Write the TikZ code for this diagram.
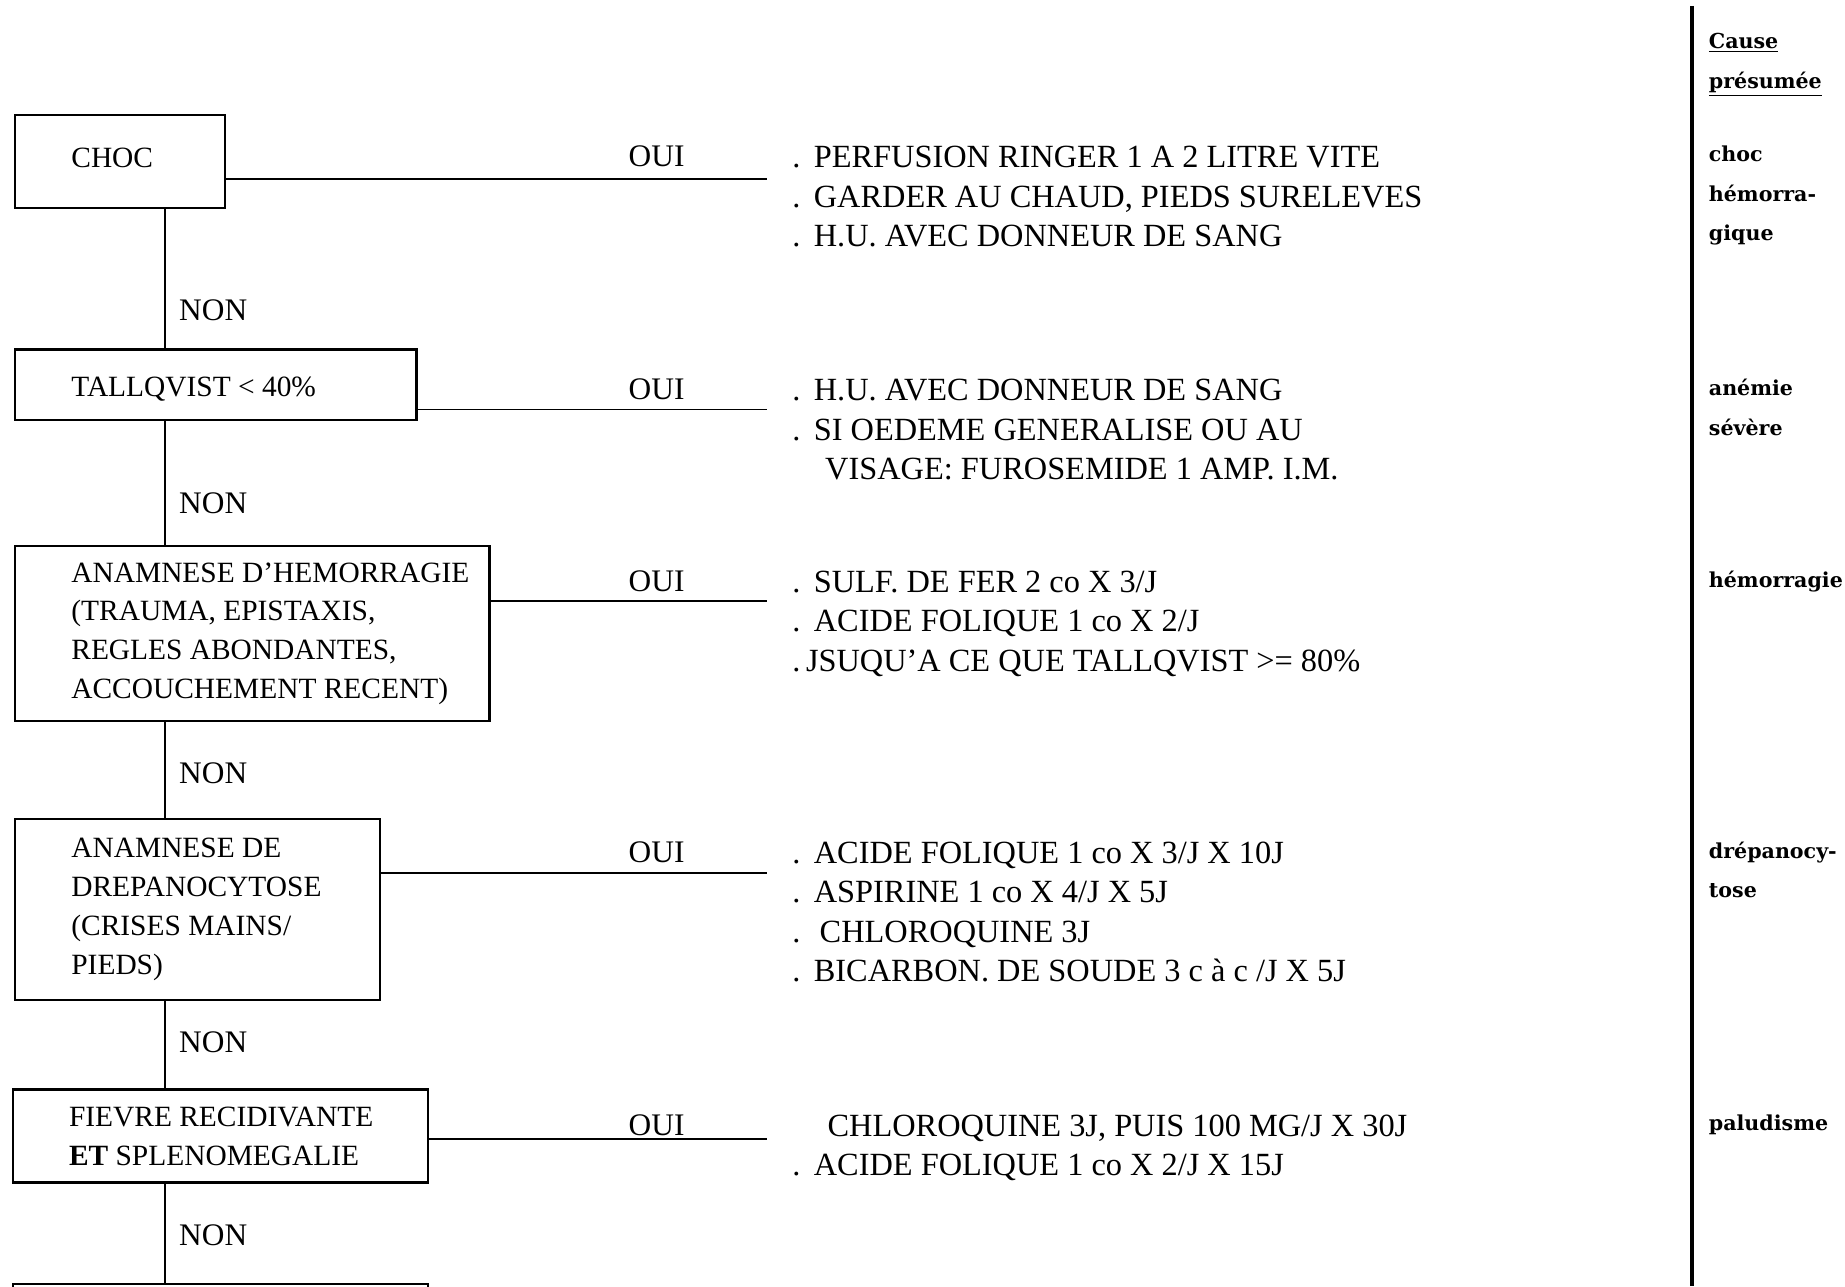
\documentclass[tikz,border=0pt]{standalone}
\usepackage{fontspec}
\setmainfont{Liberation Serif}
\newfontfamily\causefont{DejaVu Serif}

\newcommand{\dt}{\makebox[11pt][l]{.}}

\begin{document}
\begin{tikzpicture}[x=0.6pt, y=-0.6pt,
    cond/.style={draw, line width=1.2pt, anchor=north west, inner sep=0pt},
    condtxt/.style={anchor=west, align=left, inner sep=0pt, font=\fontsize{15}{19.8}\selectfont},
    acts/.style={anchor=north west, align=left, inner sep=0pt, font=\fontsize{16.5}{20.1}\selectfont},
    lbl/.style={inner sep=0pt, font=\fontsize{16}{20.1}\selectfont},
    cause/.style={anchor=north west, align=left, inner sep=0pt, font=\causefont\bfseries\fontsize{10.5}{20.1}\selectfont},
    link/.style={line width=1pt}]
    \useasboundingbox (0,0) rectangle (1568,1093);
    \clip (0,0) rectangle (1568,1093);

    % questions
    \node[cond, minimum width=106.8pt, minimum height=47.4pt] (choc) at (12,97) {};
    \node[condtxt] (choc-t) at ([xshift=29pt, yshift=2pt]choc.west) {CHOC};
    \node[cond, minimum width=204.6pt, minimum height=36pt] (tallq) at (12,296) {};
    \node[condtxt] (tallq-t) at ([xshift=29pt, yshift=-2pt]tallq.west) {TALLQVIST < 40\%};
    \node[cond, minimum width=241.8pt, minimum height=89.4pt] (hemo) at (12,463) {};
    \node[condtxt] (hemo-t) at ([xshift=29pt]hemo.west) {ANAMNESE D'HEMORRAGIE\\(TRAUMA, EPISTAXIS,\\REGLES ABONDANTES,\\ACCOUCHEMENT RECENT)};
    \node[cond, minimum width=186pt, minimum height=92.4pt] (drepa) at (12,695) {};
    \node[condtxt] (drepa-t) at ([xshift=29pt]drepa.west) {ANAMNESE DE\\DREPANOCYTOSE\\(CRISES MAINS/\\PIEDS)};
    \node[cond, minimum width=211.8pt, minimum height=47.4pt] (fievre) at (10,925) {};
    \node[condtxt] (fievre-t) at ([xshift=29pt]fievre.west) {FIEVRE RECIDIVANTE\\\textbf{ET} SPLENOMEGALIE};
    \node[cond, minimum width=211.8pt, minimum height=36pt] (suite) at (10,1090) {};

    % NON
    \coordinate (spine) at (140,0);
    \draw[link] (choc.south -| spine) -- (tallq.north -| spine);
    \draw[link] (tallq.south -| spine) -- (hemo.north -| spine);
    \draw[link] (hemo.south -| spine) -- (drepa.north -| spine);
    \draw[link] (drepa.south -| spine) -- (fievre.north -| spine);
    \draw[link] (fievre.south -| spine) -- (suite.north -| spine);
    \node[lbl, anchor=west] (non1) at (152,264) {NON};
    \node[lbl, anchor=west] (non2) at (152,428) {NON};
    \node[lbl, anchor=west] (non3) at (152,657) {NON};
    \node[lbl, anchor=west] (non4) at (152,886) {NON};
    \node[lbl, anchor=west] (non5) at (152,1050) {NON};

    % OUI
    \coordinate (e1) at (652,152);
    \coordinate (e2) at (652,348);
    \coordinate (e3) at (652,511);
    \coordinate (e4) at (652,742);
    \coordinate (e5) at (652,968);
    \draw[link] (choc.east |- e1) -- (e1);
    \draw[link] (tallq.east |- e2) -- (e2);
    \draw[link] (hemo.east |- e3) -- (e3);
    \draw[link] (drepa.east |- e4) -- (e4);
    \draw[link] (fievre.east |- e5) -- (e5);
    \node[lbl] (oui1) at (558,133) {OUI};
    \node[lbl] (oui2) at (558,331) {OUI};
    \node[lbl] (oui3) at (558,494) {OUI};
    \node[lbl] (oui4) at (558,724) {OUI};
    \node[lbl] (oui5) at (558,956) {OUI};

    % conduite a tenir
    \node[acts] (act1) at (673,124) {\dt PERFUSION RINGER 1 A 2 LITRE VITE\\\dt GARDER AU CHAUD, PIEDS SURELEVES\\\dt H.U. AVEC DONNEUR DE SANG};
    \node[acts] (act2) at (673,322) {\dt H.U. AVEC DONNEUR DE SANG\\\dt SI OEDEME GENERALISE OU AU\\\hspace*{16.8pt}VISAGE: FUROSEMIDE 1 AMP. I.M.};
    \node[acts] (act3) at (673,485) {\dt SULF. DE FER 2 co X 3/J\\\dt ACIDE FOLIQUE 1 co X 2/J\\\makebox[7pt][l]{.}JSUQU'A CE QUE TALLQVIST >= 80\%};
    \node[acts] (act4) at (673,715) {\dt ACIDE FOLIQUE 1 co X 3/J X 10J\\\dt ASPIRINE 1 co X 4/J X 5J\\\makebox[14pt][l]{.}CHLOROQUINE 3J\\\dt BICARBON. DE SOUDE 3 c à c /J X 5J};
    \node[acts] (act5) at (673,947) {\hspace*{18pt}CHLOROQUINE 3J, PUIS 100 MG/J X 30J\\\dt ACIDE FOLIQUE 1 co X 2/J X 15J};

    % cause presumee
    \coordinate (ctop) at (1438,5);
    \coordinate (cbot) at (1438,1093);
    \draw[line width=1.6pt] (ctop) -- (cbot);
    \node[cause] (cause-h) at (1452,28) {\underline{Cause}\\\underline{présumée}};
    \node[cause] (cause1) at (1452,124) {choc\\hémorra-\\gique};
    \node[cause] (cause2) at (1452,322) {anémie\\sévère};
    \node[cause] (cause3) at (1452,485) {hémorragie};
    \node[cause] (cause4) at (1452,715) {drépanocy-\\tose};
    \node[cause] (cause5) at (1452,947) {paludisme};
\end{tikzpicture}
\end{document}
